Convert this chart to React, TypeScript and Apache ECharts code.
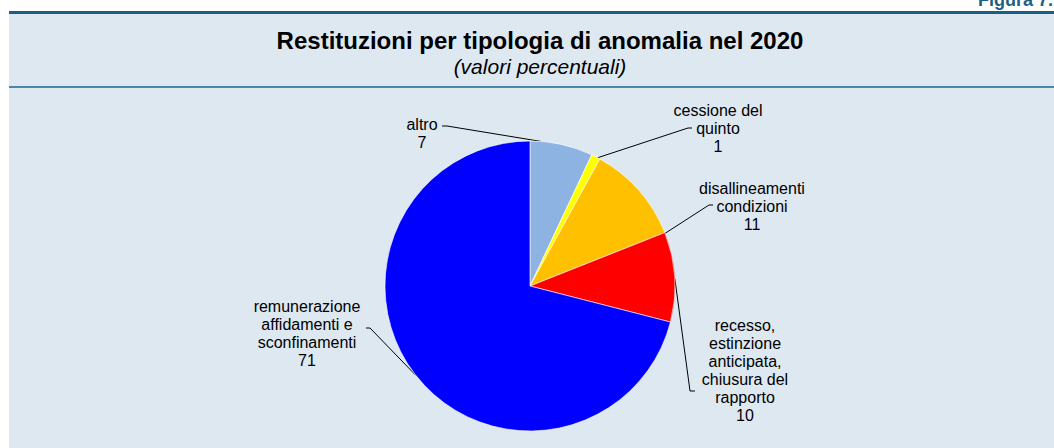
import React, { useEffect, useRef } from "react";
import * as echarts from "echarts";

const categories = [
  "altro",
  "cessione del\nquinto",
  "disallineamenti\ncondizioni",
  "recesso,\nestinzione\nanticipata,\nchiusura del\nrapporto",
  "remunerazione\naffidamenti e\nsconfinamenti",
];
const values = [7, 1, 11, 10, 71];
const sliceColors = ["#8db3e2", "#ffff00", "#ffc000", "#ff0000", "#0000ff"];
const titleText = "Restituzioni per tipologia di anomalia nel 2020";
const subtitleText = "(valori percentuali)";
const figureText = "Figura 7.";

const FONT = "'Liberation Sans', Arial, Helvetica, sans-serif";
const CX = 530;
const CY = 286;
const R = 145;
// label layout: text centre, leader anchor angle on the rim (deg from top, clockwise), bend point, end point
const labelCenters: [number, number][] = [
  [422, 133],
  [718, 128],
  [752, 206],
  [745, 370],
  [307, 333],
];
const leaderAngles = [4.3, 27.8, 68.7, 87, 232];
const leaderBends: [number, number][] = [
  [447, 126],
  [688, 128],
  [709, 205],
  [690, 391],
  [370, 328],
];
const leaderTicks = [-5, 4, 4, 5, -4];

export default function App() {
  const ref = useRef<HTMLDivElement>(null);
  useEffect(() => {
    if (!ref.current) return;
    const chart = echarts.init(ref.current, undefined, { renderer: "svg" });
    chart.setOption({
      animation: false,
      graphic: [
        { type: "rect", z: 0, shape: { x: 9, y: 14, width: 1045, height: 434 }, style: { fill: "#dde8f1" } },
        { type: "rect", z: 1, shape: { x: 9, y: 11, width: 1045, height: 3 }, style: { fill: "#1d5f82" } },
        { type: "rect", z: 1, shape: { x: 9, y: 86, width: 1045, height: 2 }, style: { fill: "#4a86a8" } },
        {
          type: "text", z: 2, x: 1053, y: 9,
          style: { text: figureText, fill: "#1d5f82", font: `bold 18px ${FONT}`, align: "right", verticalAlign: "bottom" },
        },
        {
          type: "text", z: 2, x: 540, y: 40,
          style: { text: titleText, fill: "#000", font: `bold 24px ${FONT}`, align: "center", verticalAlign: "middle" },
        },
        {
          type: "text", z: 2, x: 540, y: 66,
          style: { text: subtitleText, fill: "#000", font: `italic 21px ${FONT}`, align: "center", verticalAlign: "middle" },
        },
      ],
      series: [
        {
          type: "pie",
          center: [CX, CY],
          radius: R,
          startAngle: 90,
          clockwise: true,
          z: 5,
          data: categories.map((c, i) => ({ name: c, value: values[i], itemStyle: { color: sliceColors[i] } })),
          itemStyle: { borderColor: "#ffffff", borderWidth: 0.6 },
          label: {
            show: true,
            formatter: "{b}\n{c}",
            fontFamily: FONT,
            fontSize: 16,
            lineHeight: 18,
            color: "#000",
            align: "center",
          },
          labelLine: { show: true, length: 10, length2: 6, lineStyle: { color: "#000", width: 1 } },
          labelLayout: (params: any) => {
            const i = params.dataIndex;
            const p = labelCenters[i];
            const a = (leaderAngles[i] * Math.PI) / 180;
            const start = [CX + R * Math.sin(a), CY - R * Math.cos(a)];
            const bend = leaderBends[i];
            const end = [bend[0] + leaderTicks[i], bend[1]];
            return {
              x: p[0],
              y: p[1],
              align: "center",
              verticalAlign: "middle",
              labelLinePoints: [start, bend, end],
            };
          },
          emphasis: { disabled: true },
        },
      ],
    });
    return () => chart.dispose();
  }, []);
  return <div ref={ref} style={{ position: "absolute", left: 0, top: 0, width: 1054, height: 448 }} />;
}
